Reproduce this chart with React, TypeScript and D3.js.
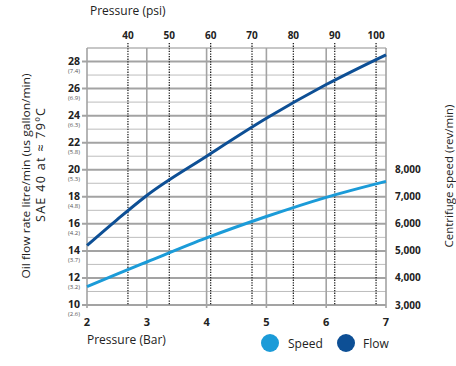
import * as d3 from 'd3';

// pressure in bar (bottom axis)
const pressureBar = [2, 2.5, 3, 4, 5, 6, 7];
// oil flow, litre/min
const flowValues = [14.4, 16.3, 18.1, 21.0, 23.8, 26.3, 28.5];
// centrifuge speed, rev/min
const speedValues = [3680, 4140, 4590, 5480, 6270, 6980, 7570];

const flowTicks = [10, 12, 14, 16, 18, 20, 22, 24, 26, 28];
const gallonLabels = ['(2.6)', '(3.2)', '(3.7)', '(4.2)', '(4.8)', '(5.3)', '(5.8)', '(6.3)', '(6.9)', '(7.4)'];
const speedTicks = [3000, 4000, 5000, 6000, 7000, 8000];
const barTicks = [2, 3, 4, 5, 6, 7];
const psiTicks = [40, 50, 60, 70, 80, 90, 100];

const FLOW_COLOR = '#0d4f95';
const SPEED_COLOR = '#1b9bd8';
const FONT = "'Open Sans', sans-serif";

export default function App() {
  const W = 456;
  const H = 366;
  const M = { left: 87, right: 386, top: 48, bottom: 305 };

  const x = d3.scaleLinear().domain([2, 7]).range([M.left, M.right]);
  // psi guides sit a few px left of the exact conversion in the original
  const xPsi = d3.scaleLinear().domain([30.1, 102.4]).range([M.left, M.right]);
  const y = d3.scaleLinear().domain([10, 29]).range([M.bottom, M.top]);
  const ySpeed = d3.scaleLinear().domain([3000, 12500]).range([M.bottom, M.top]);

  const flowLine = d3
    .line<number>()
    .x((_, i) => x(pressureBar[i]))
    .y((d) => y(d))
    .curve(d3.curveMonotoneX);
  const speedLine = d3
    .line<number>()
    .x((_, i) => x(pressureBar[i]))
    .y((d) => ySpeed(d))
    .curve(d3.curveMonotoneX);

  const gridValues = d3.range(10, 30, 1);
  const fmt = d3.format(',');

  return (
    <svg
      width={W}
      height={H}
      style={{ position: 'absolute', left: 0, top: 0, background: '#fff' }}
      fontFamily={FONT}
    >
      {/* horizontal grid */}
      {gridValues.map((v) => (
        <line
          key={'h' + v}
          x1={v % 2 === 0 ? M.left - 5 : M.left}
          x2={M.right}
          y1={y(v)}
          y2={y(v)}
          stroke={v % 2 === 0 ? '#a3a3a3' : '#bdbdbd'}
          strokeWidth={v % 2 === 0 ? 2 : 1}
        />
      ))}
      <line x1={M.left} x2={M.right} y1={M.top} y2={M.top} stroke="#b0b0b0" strokeWidth={1} />

      {/* vertical grid (bar) */}
      {barTicks.map((b) => (
        <line
          key={'v' + b}
          x1={x(b)}
          x2={x(b)}
          y1={M.top}
          y2={M.bottom + 3}
          stroke="#a3a3a3"
          strokeWidth={1.6}
        />
      ))}

      {/* psi guides */}
      {psiTicks.map((p) => (
        <g key={'p' + p}>
          <line
            x1={xPsi(p)}
            x2={xPsi(p)}
            y1={43}
            y2={M.bottom}
            stroke="#222"
            strokeWidth={1.3}
            strokeDasharray="1.3 1.3"
          />
          <text x={xPsi(p)} y={39} textAnchor="middle" fontSize={10} fontWeight={700} fill="#222">
            {p}
          </text>
        </g>
      ))}
      <text x={90} y={15} fontSize={12} fill="#222">
        Pressure (psi)
      </text>

      {/* series */}
      <path d={speedLine(speedValues) ?? ''} fill="none" stroke={SPEED_COLOR} strokeWidth={3} />
      <path d={flowLine(flowValues) ?? ''} fill="none" stroke={FLOW_COLOR} strokeWidth={3} />

      {/* left axis labels */}
      {flowTicks.map((v, i) => (
        <g key={'l' + v}>
          <text x={80} y={y(v) + 3} textAnchor="end" fontSize={10.5} fontWeight={700} fill="#222">
            {v}
          </text>
          <text x={80} y={y(v) + 11.3} textAnchor="end" fontSize={6} fill="#555">
            {gallonLabels[i]}
          </text>
        </g>
      ))}

      {/* right axis labels */}
      {speedTicks.map((v) => (
        <text key={'r' + v} x={395} y={ySpeed(v) + 3.5} fontSize={10} fontWeight={700} fill="#222">
          {fmt(v)}
        </text>
      ))}

      {/* bottom axis labels */}
      {barTicks.map((b) => (
        <text key={'b' + b} x={x(b)} y={326} textAnchor="middle" fontSize={11} fontWeight={700} fill="#222">
          {b}
        </text>
      ))}
      <text x={87} y={344} fontSize={12} fill="#222">
        Pressure (Bar)
      </text>

      {/* axis titles */}
      <text
        transform={`translate(29.5,176) rotate(-90)`}
        textAnchor="middle"
        fontSize={10.5}
        textLength={205}
        lengthAdjust="spacingAndGlyphs"
        fill="#222"
      >
        Oil flow rate litre/min (us gallon/min)
      </text>
      <text
        transform={`translate(44.5,165) rotate(-90)`}
        textAnchor="middle"
        fontSize={12.5}
        textLength={114}
        fill="#222"
      >
        SAE 40 at ≈ 79ºC
      </text>
      <text
        transform={`translate(452.5,176) rotate(-90)`}
        textAnchor="middle"
        fontSize={11.5}
        fill="#222"
      >
        Centrifuge speed (rev/min)
      </text>

      {/* legend */}
      <circle cx={270} cy={343} r={9} fill={SPEED_COLOR} />
      <text x={288} y={347.5} fontSize={12} fill="#222">
        Speed
      </text>
      <circle cx={346} cy={343} r={9} fill={FLOW_COLOR} />
      <text x={363} y={347.5} fontSize={12} fill="#222">
        Flow
      </text>
    </svg>
  );
}
